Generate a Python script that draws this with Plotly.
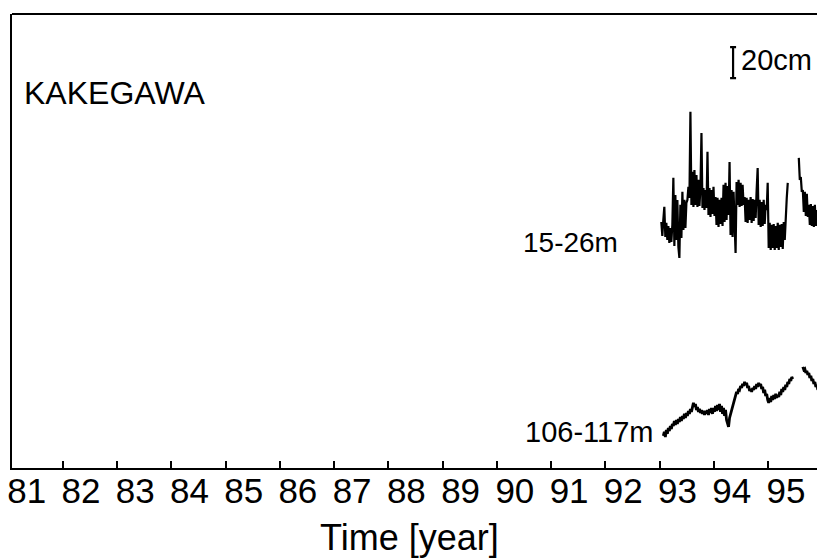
import plotly.graph_objects as go

# ---------------- data ----------------
station = "KAKEGAWA"
x_title = "Time [year]"
year_labels = [str(y) for y in range(81, 96)]
year_ticks = list(range(82, 96))

# sampling of the records (decimal year, two-digit)
t0 = 93.03
dt = 0.0185

# water level, 15-26 m well [cm, arbitrary datum]
shallow_cm = [
    156.8, 147.8, 158.1, 166.5, 147.1, 156.2, 145.2, 154.2, 143.3, 152.9,
    143.9, 154.9, 185.2, 141.3, 174.2, 145.2, 171.0, 140.7, 133.6, 167.8,
    146.5, 176.2, 151.7, 171.0, 152.9, 169.1, 171.0, 179.4, 172.3, 227.8,
    167.8, 189.1, 166.5, 190.3, 167.8, 187.1, 166.5, 183.9, 167.1, 178.7,
    214.2, 165.8, 178.7, 164.5, 177.4, 165.8, 202.0, 161.3, 178.7, 160.0,
    177.4, 162.0, 179.4, 160.7, 172.9, 154.9, 172.3, 153.6, 171.0, 155.5,
    172.3, 154.2, 180.7, 156.8, 182.0, 158.1, 180.0, 161.3, 195.5, 148.4,
    177.4, 147.1, 176.2, 151.7, 136.8, 182.6, 167.8, 183.9, 166.5, 182.0,
    167.1, 180.7, 167.8, 172.9, 156.8, 172.3, 156.2, 171.0, 158.1, 172.9,
    156.2, 171.6, 157.5, 171.0, 159.4, 177.4, 191.6, 154.9, 171.0, 153.6,
    169.7, 154.2, 171.0, 155.5, 167.8, 164.5, 182.0, 140.0, 156.2, 138.8,
    154.9, 140.0, 155.5, 138.8, 154.2, 140.0, 156.2, 138.8, 154.9, 140.7,
    155.5, 139.4, 156.8, 145.2, 164.5, 172.3, 182.0,
    None, None, None, None, None, None, None, None, None, None,
    198.1, 183.9, 185.8, 176.2, 177.4, 163.3, 176.2, 160.7, 174.9, 160.0,
    167.8, 154.9, 168.4, 154.2, 167.1, 153.6, 167.8, 154.2, 164.5, 155.5,
]

# water level, 106-117 m well [cm, arbitrary datum]
deep_cm = [
    None, None,
    18.8, 21.4, 18.1, 22.7, 20.1, 23.9, 22.0, 25.2, 23.3, 26.5,
    25.2, 28.4, 25.9, 29.1, 26.5, 29.7, 27.8, 31.0, 28.4, 31.7,
    29.7, 33.0, 30.4, 33.6, 31.7, 34.9, 33.0, 36.2, 34.3, 38.8,
    40.1, 37.5, 39.4, 35.5, 37.5, 34.3, 36.2, 33.6, 35.5, 33.0,
    34.9, 32.3, 34.9, 33.0, 35.5, 32.3, 36.2, 33.6, 36.8, 33.0,
    36.8, 34.3, 38.1, 34.9, 38.8, 35.5, 39.4, 34.3, 38.1, 33.0,
    36.8, 31.7, 35.5, 29.1, 26.5, 24.6, 30.4, 33.0, 35.5, 38.1,
    40.7, 43.3, 44.6, 47.2, 45.9, 49.1, 48.5, 51.0, 49.7, 52.3,
    51.0, 53.6, 51.7, 53.0, 49.7, 51.0, 47.8, 49.1, 47.2, 49.7,
    48.5, 51.0, 49.1, 52.3, 50.4, 53.0, 51.0, 52.3, 49.1, 50.4,
    46.5, 48.5, 44.6, 45.9, 42.0, 40.1, 43.3, 40.7, 44.6, 42.0,
    45.2, 42.6, 45.9, 43.3, 45.2, 43.9, 47.2, 45.2, 49.1, 47.2,
    50.4, 48.5, 51.7, 50.4, 53.6, 52.3, 55.5, 54.3, 56.8, 55.5,
    None, None, None, None, None, None, None, None, None,
    63.3, 61.4, 62.0, 59.4, 60.7, 58.1, 59.4, 56.2, 57.5, 54.3,
    55.5, 52.3, 53.6, 50.4, 51.7, 48.5,
]

scale_bar_cm = 20

# ---------------- figure ----------------
t_shallow = [t0 + i * dt for i in range(len(shallow_cm))]
t_deep = [t0 + i * dt for i in range(len(deep_cm))]

FONT = "Liberation Sans, Arial, Helvetica, sans-serif"

fig = go.Figure()
fig.add_trace(go.Scatter(x=t_shallow, y=shallow_cm, mode="lines",
                         line=dict(color="black", width=2.2),
                         connectgaps=False, hoverinfo="skip"))
fig.add_trace(go.Scatter(x=t_deep, y=deep_cm, mode="lines",
                         line=dict(color="black", width=2.8),
                         connectgaps=False, hoverinfo="skip"))

# 20 cm scale bar
bar_x = 94.353
bar_mid = 259.6
fig.add_trace(go.Scatter(x=[bar_x], y=[bar_mid], mode="markers",
                         marker=dict(size=1, color="rgba(0,0,0,0)"),
                         error_y=dict(type="data", array=[scale_bar_cm / 2],
                                      visible=True, color="black",
                                      thickness=2.2, width=3),
                         hoverinfo="skip"))

annotations = [
    dict(x=81.24, y=240, text=station, xanchor="left", yanchor="middle",
         showarrow=False, font=dict(size=32, family=FONT, color="black")),
    dict(x=92.27, y=143.8, text="15-26m", xanchor="right", yanchor="middle",
         showarrow=False, font=dict(size=28, family=FONT, color="black")),
    dict(x=92.915, y=21.3, text="106-117m", xanchor="right", yanchor="middle",
         showarrow=False, font=dict(size=29, family=FONT, color="black")),
    dict(x=94.463, y=261.2, text=f"{scale_bar_cm}cm", xanchor="left",
         yanchor="middle", showarrow=False,
         font=dict(size=29, family=FONT, color="black")),
    dict(x=0.494, y=-0.152, xref="paper", yref="paper", text=x_title,
         xanchor="center", yanchor="middle", showarrow=False,
         font=dict(size=36, family=FONT, color="black")),
]

fig.update_layout(
    width=817, height=560,
    margin=dict(l=12, r=0, t=14, b=92),
    paper_bgcolor="white", plot_bgcolor="white",
    showlegend=False,
    annotations=annotations,
    shapes=[dict(type="line", xref="paper", yref="paper", x0=0, x1=1,
                 y0=1, y1=1, line=dict(color="black", width=2))],
    xaxis=dict(
        range=[81.06, 95.90],
        showline=True, linecolor="black", linewidth=2,
        showgrid=False, zeroline=False,
        tickmode="array",
        tickvals=[int(s) + 0.33 for s in year_labels],
        ticktext=year_labels,
        ticks="",
        ticklabelstandoff=-9,
        ticklabeloverflow="allow",
        tickfont=dict(size=35, family=FONT, color="black"),
        minor=dict(tickmode="array", tickvals=year_ticks, ticks="inside",
                   ticklen=7, tickwidth=2, tickcolor="black", showgrid=False),
    ),
    yaxis=dict(
        range=[-1.9, 290.9],
        showline=True, linecolor="black", linewidth=2,
        showgrid=False, zeroline=False, showticklabels=False, ticks="",
    ),
)

fig.write_html("out.html",
               config={"displayModeBar": False},
               post_script="document.body.style.margin='0';")
